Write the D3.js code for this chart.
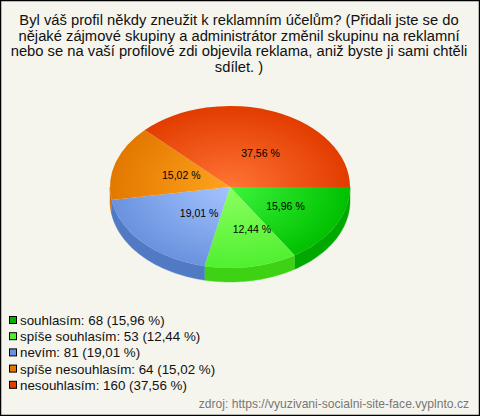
<!DOCTYPE html>
<html><head><meta charset="utf-8">
<script src="https://cdn.jsdelivr.net/npm/d3@7"></script>
<style>html,body{margin:0;padding:0;background:#f5f5ed}svg{display:block}text{font-family:"Liberation Sans",Arial,sans-serif}</style>
</head><body>
<svg id="c" width="480" height="416"></svg>
<script>
const titleLines=["Byl váš profil někdy zneužit k reklamním účelům? (Přidali jste se do","nějaké zájmové skupiny a administrátor změnil skupinu na reklamní","nebo se na vaší profilové zdi objevila reklama, aniž byste ji sami chtěli","sdílet. )"];
const categories=["souhlasím","spíše souhlasím","nevím","spíše nesouhlasím","nesouhlasím"];
const counts=[68,53,81,64,160];
const percents=["15,96","12,44","19,01","15,02","37,56"];
const innerColors=["#3cf53c","#8cff60","#a4c4ff","#ffa41e","#ff7434"];
const outerColors=["#00c000","#50f030","#6a92de","#e27800","#e23c00"];
const sideColors=["#00a800","#3ed214","#507ac4","#d06c00","#c83000"];
const legendColors=["#00b400","#50f030","#6a92de","#e27800","#e23c00"];
const source="zdroj: https://vyuzivani-socialni-site-face.vyplnto.cz";

const W=480,H=416,cx=230,cy=187,rx=120,ry=81,depth=14;
const svg=d3.select("#c");
svg.append("rect").attr("x",.5).attr("y",.5).attr("width",W-1).attr("height",H-1)
  .attr("fill","#f5f5ed").attr("stroke","#000").attr("stroke-width",1.5);

svg.append("g").selectAll("text").data(titleLines).join("text")
  .attr("x",239).attr("y",(d,i)=>25+i*15.7).attr("text-anchor","middle")
  .attr("font-size",14.75).attr("fill","#111").text(d=>d);

const defs=svg.append("defs");
categories.forEach((c,i)=>{
  const g=defs.append("radialGradient").attr("id","g"+i).attr("gradientUnits","userSpaceOnUse")
    .attr("cx",0).attr("cy",0).attr("r",rx);
  g.append("stop").attr("offset",0).attr("stop-color",innerColors[i]);
  g.append("stop").attr("offset",1).attr("stop-color",outerColors[i]);
});

// angles: d3 measures clockwise from 12 o'clock; the pie starts at 3 o'clock
const pie=d3.pie().sort(null).value(d=>d).startAngle(Math.PI/2).endAngle(Math.PI*2.5);
const arcs=pie(counts);
const arc=d3.arc().innerRadius(0).outerRadius(rx);
const px=a=>cx+rx*Math.sin(a), py=a=>cy-ry*Math.cos(a);

// side wall
const sides=svg.append("g");
arcs.forEach((d,i)=>{
  const a0=Math.max(d.startAngle,Math.PI/2), a1=Math.min(d.endAngle,Math.PI*1.5);
  if(a1<=a0) return;
  const top=d3.range(0,41).map(k=>a0+(a1-a0)*k/40);
  const pts=top.map(a=>[px(a),py(a)]).concat(top.slice().reverse().map(a=>[px(a),py(a)+depth]));
  sides.append("path").attr("d",d3.line()(pts)+"Z").attr("fill",sideColors[i])
    .attr("stroke",sideColors[i]).attr("stroke-width",.4);
});

// top face
svg.append("g").attr("transform",`translate(${cx},${cy}) scale(1,${ry/rx})`)
  .selectAll("path").data(arcs).join("path")
  .attr("d",arc).attr("fill",(d,i)=>`url(#g${i})`);

// slice labels
const labelNudgeX=[-1,5,3,-2,2];
const labelNudgeY=[-3,0,-4,-2,0];
svg.append("g").selectAll("text").data(arcs).join("text")
  .attr("x",(d,i)=>cx+7+labelNudgeX[i]+rx*.47*Math.sin((d.startAngle+d.endAngle)/2))
  .attr("y",(d,i)=>cy+6.5+labelNudgeY[i]-ry*.49*Math.cos((d.startAngle+d.endAngle)/2))
  .attr("text-anchor","middle").attr("font-size",10.5).attr("fill","#000")
  .text((d,i)=>percents[i]+" %");

// legend
const rows=svg.append("g").selectAll("g").data(categories).join("g")
  .attr("transform",(d,i)=>`translate(0,${320+i*16.2})`);
rows.append("rect").attr("x",9.5).attr("y",-3.5).attr("width",7).attr("height",7)
  .attr("fill",(d,i)=>legendColors[i]).attr("stroke","#000").attr("stroke-width",1);
rows.append("text").attr("x",20).attr("y",5).attr("font-size",13.35).attr("fill","#111")
  .text((d,i)=>`${d}: ${counts[i]} (${percents[i]} %)`);

svg.append("text").attr("x",469).attr("y",408).attr("text-anchor","end")
  .attr("font-size",12.1).attr("fill","#777").text(source);
</script>
</body></html>
